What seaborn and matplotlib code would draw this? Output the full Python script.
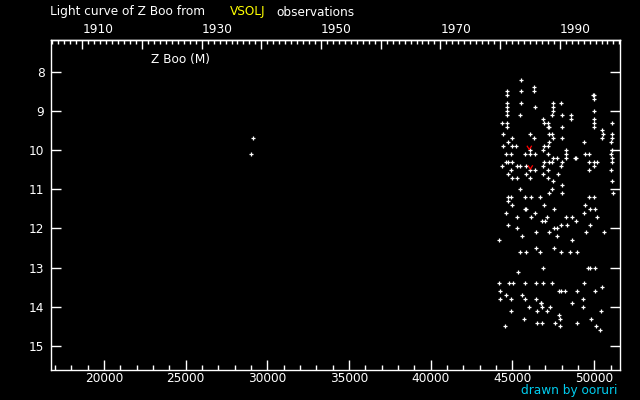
import numpy as np
import pandas as pd
import matplotlib
matplotlib.use("Agg")
import matplotlib.pyplot as plt
import seaborn as sns
from matplotlib.ticker import MultipleLocator

# JD - 2400000 and visual magnitude (rows grouped by magnitude)
jd_obs = [
    29140, 29020,
    45540,
    46330,
    44680, 45540, 46330,
    44680, 49930, 49960,
    50010,
    44680, 45540, 47500, 47990,
    44680, 46400, 47500,
    44680, 47500, 50010,
    44680, 45480, 47440, 48050, 48600,
    46890, 48600, 50010,
    44380, 44680, 46950, 47190, 50010, 51110,
    44680, 47190, 47220, 48050, 50010,
    50500,
    44440, 46090, 47250, 47440, 50560, 51110,
    44990, 46330, 47500, 48050, 50500, 51110,
    44740, 47250, 49390, 51050,
    44440, 44990, 45230, 46950, 47190,
    46090, 46890, 48290, 51110,
    44620, 44930, 45780, 46090, 46400, 47190, 48290, 49460, 49700, 51050,
    47500, 47740, 48290, 48840, 48870, 51110,
    44620, 44740, 44990, 46950, 47250, 47440, 48050, 49700, 50010, 50190, 51110,
    44380, 45290, 45480, 45850, 46890, 47990, 50010,
    44930, 46090, 46400, 47190, 49700, 51050,
    44740, 45850, 46890, 47770,
    44990, 45290, 46090, 47190,
    47500, 51110,
    48050,
    45480, 47440,
    47250, 48050, 51170,
    44740, 44930, 45780, 46150, 46700, 49700, 50010,
    44740,
    44990, 46950, 49460,
    45770, 45800, 47560, 49760, 50070,
    44620, 46400, 49390,
    45290, 46150, 47130, 48290, 48660, 50190,
    46820, 47010, 48900,
    44740, 47990, 48350, 49760,
    45290, 47560, 47740,
    46460, 47250, 49520, 50620,
    45600, 47740,
    44190, 48660,
    46460, 47560,
    45480, 45850, 46700, 47990, 48540, 48970,
    46880, 49640, 49760, 50070,
    45360,
    44190, 44800, 45050, 45780, 46460, 46880, 47440, 49390,
    50500,
    44250, 47860, 47990, 48230, 48970, 50070,
    44620, 45600,
    44250, 44930, 45780, 46460, 49330,
    46740, 46770, 48660,
    46030, 46820, 47310, 49330,
    44930, 46520, 47130, 50440,
    47860,
    45720, 47930, 49820,
    46520, 46820, 47620, 48970,
    44560, 47930, 50130,
    50370,
]
mag_obs = (
    [9.7, 10.1]
    + [8.2] * 1 + [8.4] * 1 + [8.5] * 3 + [8.6] * 3 + [8.7] * 1
    + [8.8] * 4 + [8.9] * 3 + [9.0] * 3 + [9.1] * 5 + [9.2] * 3
    + [9.3] * 6 + [9.4] * 5 + [9.5] * 1 + [9.6] * 6 + [9.7] * 6
    + [9.8] * 4 + [9.9] * 5 + [10.0] * 4 + [10.1] * 10 + [10.2] * 6
    + [10.3] * 11 + [10.4] * 7 + [10.5] * 6 + [10.6] * 4 + [10.7] * 4
    + [10.8] * 2 + [10.9] * 1 + [11.0] * 2 + [11.1] * 3 + [11.2] * 7
    + [11.3] * 1 + [11.4] * 3 + [11.5] * 5 + [11.6] * 3 + [11.7] * 6
    + [11.8] * 3 + [11.9] * 4 + [12.0] * 3 + [12.1] * 4 + [12.2] * 2
    + [12.3] * 2 + [12.5] * 2 + [12.6] * 6 + [13.0] * 4 + [13.1] * 1
    + [13.4] * 8 + [13.5] * 1 + [13.6] * 6 + [13.7] * 2 + [13.8] * 5
    + [13.9] * 3 + [14.0] * 4 + [14.1] * 4 + [14.2] * 1 + [14.3] * 3
    + [14.4] * 4 + [14.5] * 3 + [14.6] * 1
)

# "fainter than" estimates (red marks)
jd_fainter = [46030, 46090]
mag_fainter = [9.95, 10.45]

year_ticks = [1910, 1920, 1930, 1940, 1950, 1960, 1970, 1980, 1990]
year_labels = ["1910", "", "1930", "", "1950", "", "1970", "", "1990"]


def jd_to_year(jd):
    return 2000.0 + (np.asarray(jd, dtype=float) - 51545.0) / 365.25


def year_to_jd(yr):
    return 51545.0 + (np.asarray(yr, dtype=float) - 2000.0) * 365.25


df = pd.DataFrame({"jd": jd_obs, "mag": mag_obs})
df_f = pd.DataFrame({"jd": jd_fainter, "mag": mag_fainter})

sns.set_theme(style="ticks")
plt.rcParams["font.family"] = ["DejaVu Sans"]
fs = 8.7

fig = plt.figure(figsize=(6.4, 4.0), dpi=100, facecolor="black")
ax = fig.add_axes([50.7 / 640, 30 / 400, 569.6 / 640, 329.7 / 400])
ax.set_facecolor("black")

sns.scatterplot(data=df, x="jd", y="mag", marker="+", color="white",
                s=10, linewidth=0.9, ax=ax, legend=False)
sns.scatterplot(data=df_f, x="jd", y="mag", marker=[(-1, 1), (0, -0.6), (1, 1)],
                color="red", facecolor="none", edgecolor="red",
                s=12, linewidth=0.9, ax=ax, legend=False)

ax.set_xlim(16738, 51598)
ax.set_ylim(15.61, 7.20)
ax.set_xlabel("")
ax.set_ylabel("")

for sp in ax.spines.values():
    sp.set_color("white")
    sp.set_linewidth(1.0)

ax.xaxis.set_minor_locator(MultipleLocator(1000))
ax.set_xticks([20000, 25000, 30000, 35000, 40000, 45000, 50000])
ax.set_yticks([8, 9, 10, 11, 12, 13, 14, 15])
ax.tick_params(axis="x", which="major", direction="in", length=7, width=1,
               colors="white", labelsize=fs, pad=1.5, top=False)
ax.tick_params(axis="x", which="minor", direction="in", length=3.5, width=1,
               colors="white", top=False)
ax.tick_params(axis="y", which="major", direction="in", length=7, width=1,
               colors="white", labelsize=fs, pad=4.5, left=True, right=True)
ax.tick_params(axis="y", which="minor", left=False, right=False)

sec = ax.secondary_xaxis("top", functions=(jd_to_year, year_to_jd))
sec.set_xticks(year_ticks)
sec.set_xticklabels(year_labels)
sec.xaxis.set_minor_locator(MultipleLocator(1))
sec.tick_params(axis="x", which="major", direction="in", length=6.5, width=1,
                colors="white", labelsize=fs, pad=3)
sec.tick_params(axis="x", which="minor", direction="in", length=3, width=1,
                colors="white")
for lab in sec.get_xticklabels():
    lab.set_horizontalalignment("left")
sec.spines["top"].set_color("white")
sec.spines["top"].set_linewidth(1.0)

fig.text(50 / 640, 1 - 12 / 400, "Light curve of Z Boo from", color="white",
         fontsize=fs, va="center", ha="left")
fig.text(230 / 640, 1 - 12 / 400, "VSOLJ", color="#ffff00",
         fontsize=fs, va="center", ha="left")
fig.text(276 / 640, 1 - 12 / 400, "observations", color="white",
         fontsize=fs, va="center", ha="left")
fig.text(150.7 / 640, 1 - 60 / 400, "Z Boo (M)", color="white",
         fontsize=fs, va="center", ha="left")
fig.text(617.3 / 640, 1 - 390.7 / 400, "drawn by ooruri", color="#00ccee",
         fontsize=fs, va="center", ha="right")

fig.savefig("out.png", dpi=100, facecolor="black")
